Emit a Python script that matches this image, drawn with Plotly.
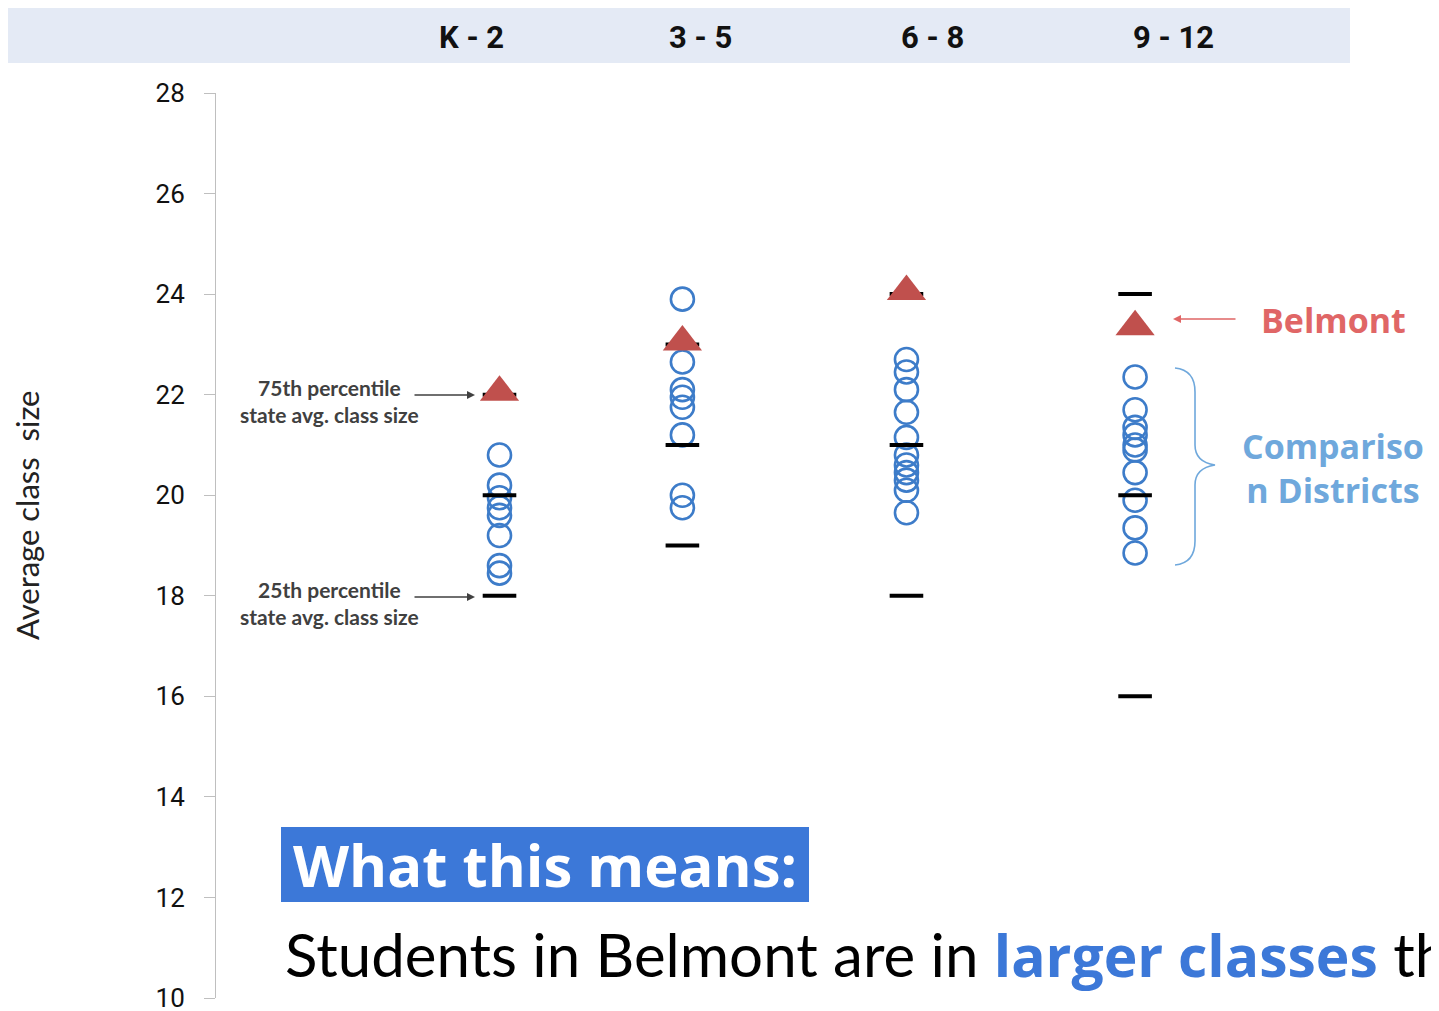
import plotly.graph_objects as go

# grade bands and their horizontal placement on the chart
grades = ["K - 2", "3 - 5", "6 - 8", "9 - 12"]
grade_pos = [1.0, 1.8, 2.78, 3.78]

# average class size in comparison districts
comparison = {
    "K - 2": [20.8, 20.2, 19.95, 19.75, 19.6, 19.2, 18.6, 18.45],
    "3 - 5": [23.9, 22.65, 22.1, 21.95, 21.75, 21.2, 20.0, 19.75],
    "6 - 8": [22.7, 22.45, 22.1, 21.65, 21.15, 20.8, 20.6, 20.45, 20.3, 20.1, 19.65],
    "9 - 12": [22.35, 21.7, 21.35, 21.2, 21.0, 20.9, 20.45, 19.9, 19.35, 18.85],
}
belmont = [22.05, 23.05, 24.05, 23.35]

# state percentiles (75th, median, 25th)
state_p75 = [22, 23, 24, 24]
state_p50 = [20, 21, 21, 20]
state_p25 = [18, 19, 18, 16]

# page body adds an 8px margin, so the figure is 8px smaller on each side
W, H = 1431, 1003
L, R, T, B = 208, 89, 85, 13


# positions below are given in screen pixels and turned into paper coords
def px(x):
    return (x - 216) / 1134


def py(y):
    return (998 - y) / 905


def note(text, x, y, size, color, family="Lato", **kw):
    fig.add_annotation(text=text, xref="paper", yref="paper", x=px(x), y=py(y),
                       xanchor=kw.pop("xanchor", "center"), yanchor="middle",
                       showarrow=False, font=dict(family=family, size=size, color=color), **kw)


def arrow(x, y, ax, color):
    fig.add_annotation(text="", xref="paper", yref="paper", x=px(x), y=py(y),
                       ax=ax, ay=0, showarrow=True, arrowhead=2, arrowsize=1,
                       arrowwidth=1.6, arrowcolor=color)


fig = go.Figure()

cx, cy = [], []
for g, p in zip(grades, grade_pos):
    cx += [p] * len(comparison[g])
    cy += comparison[g]

fig.add_trace(go.Scatter(
    x=cx, y=cy, mode="markers", name="Comparison Districts",
    marker=dict(symbol="circle-open", size=23, color="#3d7cc9", line=dict(width=2.6)),
))

pct_x = grade_pos * 3
pct_y = state_p75 + state_p50 + state_p25
fig.add_trace(go.Scatter(
    x=pct_x, y=pct_y, mode="markers", name="State percentiles",
    marker=dict(symbol="line-ew", size=24, color="black", line=dict(width=4, color="black")),
))

fig.add_trace(go.Scatter(
    x=grade_pos, y=belmont, mode="markers", name="Belmont",
    marker=dict(symbol="triangle-up", size=34, color="#c0504d", line=dict(width=0)),
))

# header band with grade labels
fig.add_shape(type="rect", xref="paper", yref="paper",
              x0=px(8), x1=px(1350), y0=py(63), y1=py(8),
              fillcolor="#e4eaf5", line=dict(width=0), layer="below")
header_x = [471, 700, 932, 1173]
for g, hx in zip(grades, header_x):
    note("<b>" + g + "</b>", hx, 37, 31, "#111111", family="Roboto")

# y axis title
note("Average class  size", 27, 515, 31, "#222222", textangle=-90)

# percentile callouts
for label, yy, target in [("75th", 401, 395), ("25th", 603, 597)]:
    note("<b>" + label + " percentile<br>state avg. class size</b>", 329, yy, 21,
         "#404040", align="center")
    arrow(475, target, -62, "#404040")

# Belmont callout
note("<b>Belmont</b>", 1333, 320, 34, "#e06666", family="Open Sans")
arrow(1173, 319, 64, "#e06666")

# comparison districts brace
pts = [(1175, 368), (1195, 370), (1195, 392), (1195, 445), (1195, 462), (1215, 465),
       (1195, 468), (1195, 485), (1195, 541), (1195, 563), (1175, 565)]
P = [f"{px(a):.5f},{py(b):.5f}" for a, b in pts]
path = (f"M {P[0]} Q {P[1]} {P[2]} L {P[3]} Q {P[4]} {P[5]} "
        f"Q {P[6]} {P[7]} L {P[8]} Q {P[9]} {P[10]}")
fig.add_shape(type="path", xref="paper", yref="paper", path=path,
              line=dict(color="#6fa8dc", width=1.6))
note("<b>Compariso<br>n Districts</b>", 1333, 468, 34, "#6fa8dc",
     family="Open Sans", align="center")

# takeaway text
fig.add_shape(type="rect", xref="paper", yref="paper",
              x0=px(281), x1=px(809), y0=py(902), y1=py(827),
              fillcolor="#3c78d8", line=dict(width=0), layer="below")
note("<b>What this means:</b>", 545, 864, 58, "white", family="Open Sans")
note("Students in Belmont are in <b><span style='color:#3c78d8;font-family:Open Sans;"
     "font-size:57px'>larger classes</span></b> than", 283, 955, 60, "black", xanchor="left")

fig.update_layout(
    width=W, height=H,
    margin=dict(l=L, r=R, t=T, b=B, autoexpand=False),
    plot_bgcolor="rgba(0,0,0,0)", paper_bgcolor="white",
    showlegend=False,
    xaxis=dict(range=[-0.24, 4.72], visible=False),
    yaxis=dict(range=[10, 28], dtick=2, showgrid=False, zeroline=False,
               automargin=False,
               showline=True, linecolor="#bfbfbf", linewidth=1,
               ticks="outside", ticklen=11, tickcolor="#bfbfbf",
               ticklabelstandoff=14, ticklabeloverflow="allow",
               tickfont=dict(family="Roboto", size=26, color="#111111")),
)

fig.write_html("out.html")
